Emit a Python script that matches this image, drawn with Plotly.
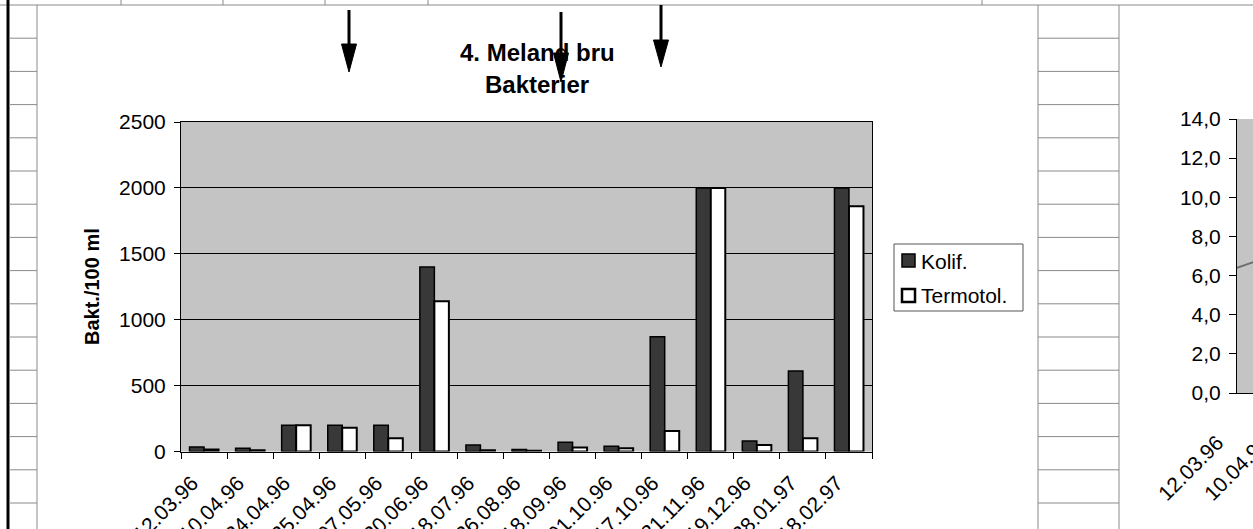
import plotly.graph_objects as go

# ---- data -------------------------------------------------------------
dates = ["12.03.96", "10.04.96", "24.04.96", "25.04.96", "07.05.96",
         "20.06.96", "18.07.96", "26.08.96", "18.09.96", "01.10.96",
         "17.10.96", "21.11.96", "19.12.96", "28.01.97", "18.02.97"]
kolif = [35, 25, 200, 200, 200, 1400, 50, 15, 70, 40, 870, 2000, 80, 610, 2000]
termotol = [15, 10, 200, 180, 100, 1140, 10, 5, 30, 25, 155, 2000, 50, 100, 1860]

# neighbouring chart on the sheet (only its left edge is in view)
side_dates = ["12.03.96", "10.04.96"]
side_values = [6.4, 7.2]
side_ticks = [0, 2, 4, 6, 8, 10, 12, 14]

W, H = 1253, 529
FONT = "Liberation Sans, Arial, sans-serif"
GRID = "#8a8a8a"


def px(x):
    return x / W


def py(y):
    return 1 - y / H


fig = go.Figure()

fig.add_trace(go.Bar(
    x=dates, y=kolif, name="Kolif.",
    marker=dict(color="#383838", line=dict(color="black", width=1.5)),
    showlegend=False,
))
fig.add_trace(go.Bar(
    x=dates, y=termotol, name="Termotol.",
    marker=dict(color="white", line=dict(color="black", width=2)),
    showlegend=False,
))
fig.add_trace(go.Scatter(
    x=[0, 1], y=side_values, mode="lines",
    line=dict(color="#6e6e6e", width=2),
    xaxis="x2", yaxis="y2", showlegend=False, cliponaxis=True,
))

shapes = []
annotations = []

# spreadsheet grid behind the charts
shapes.append(dict(type="line", xref="paper", yref="paper",
                   x0=0, x1=1, y0=py(5), y1=py(5),
                   line=dict(color=GRID, width=1)))
shapes.append(dict(type="line", xref="paper", yref="paper",
                   x0=px(8), x1=px(8), y0=0, y1=1,
                   line=dict(color="black", width=3)))
for xv in (121, 223, 325, 428, 982):
    shapes.append(dict(type="line", xref="paper", yref="paper",
                       x0=px(xv), x1=px(xv), y0=py(0), y1=py(5),
                       line=dict(color=GRID, width=1)))
for xv in (37, 1038, 1119):
    shapes.append(dict(type="line", xref="paper", yref="paper",
                       x0=px(xv), x1=px(xv), y0=0, y1=py(5),
                       line=dict(color=GRID, width=1)))
row = 5 + 33.2
while row < H:
    for a, b in ((9, 37), (1038, 1119)):
        shapes.append(dict(type="line", xref="paper", yref="paper",
                           x0=px(a), x1=px(b), y0=py(row), y1=py(row),
                           line=dict(color=GRID, width=1)))
    row += 33.2

# legend box drawn by hand
shapes.append(dict(type="rect", xref="paper", yref="paper",
                   x0=px(894), x1=px(1023), y0=py(311), y1=py(244),
                   line=dict(color="#555555", width=1), fillcolor="white"))
shapes.append(dict(type="rect", xref="paper", yref="paper",
                   x0=px(902), x1=px(915), y0=py(267), y1=py(254),
                   line=dict(color="black", width=1.5), fillcolor="#383838"))
shapes.append(dict(type="rect", xref="paper", yref="paper",
                   x0=px(902), x1=px(915), y0=py(302), y1=py(289),
                   line=dict(color="black", width=2.5), fillcolor="white"))
for label, yc in (("Kolif.", 261), ("Termotol.", 295)):
    annotations.append(dict(text=label, xref="paper", yref="paper",
                            x=px(919), y=py(yc), xanchor="left", yanchor="middle",
                            showarrow=False, font=dict(family=FONT, size=21, color="black")))

# chart title, two lines
for txt, yc in (("4. Meland bru", 53), ("Bakterier", 85)):
    annotations.append(dict(text=f"<b>{txt}</b>", xref="paper", yref="paper",
                            x=px(537), y=py(yc), xanchor="center", yanchor="middle",
                            showarrow=False,
                            font=dict(family=FONT, size=24, color="black")))
annotations.append(dict(text="<b>Bakt./100 ml</b>", xref="paper", yref="paper",
                        x=px(92), y=py(287), textangle=-90, showarrow=False,
                        xanchor="center", yanchor="middle",
                        font=dict(family=FONT, size=20, color="black")))

# hand-drawn arrows over the chart
for ax_, top, head, tip in ((349, 10, 44, 72), (561, 12, 53, 82), (661, 5, 40, 67)):
    shapes.append(dict(type="line", xref="paper", yref="paper",
                       x0=px(ax_), x1=px(ax_), y0=py(top), y1=py(head + 2),
                       line=dict(color="black", width=3)))
    shapes.append(dict(type="path", xref="paper", yref="paper",
                       path=f"M {px(ax_ - 7.5)},{py(head)} L {px(ax_ + 7.5)},{py(head)} "
                            f"L {px(ax_)},{py(tip)} Z",
                       fillcolor="black", line=dict(color="black", width=1)))

# category labels of the neighbouring chart
for i, d in enumerate(side_dates):
    annotations.append(dict(text=d, xref="paper", yref="paper",
                            x=px(1231 + 46 * i), y=py(428), textangle=-45,
                            xanchor="right", yanchor="top", showarrow=False,
                            font=dict(family=FONT, size=21, color="black")))

fig.update_layout(
    width=W, height=H,
    margin=dict(l=0, r=0, t=0, b=0, autoexpand=False),
    paper_bgcolor="white", plot_bgcolor="#c4c4c4",
    separators=", ",
    barmode="group", bargap=0.37, bargroupgap=0,
    font=dict(family=FONT, size=21, color="black"),
    shapes=shapes, annotations=annotations,
    xaxis=dict(domain=[px(181), px(872)], type="category",
               tickson="boundaries", ticks="outside", ticklen=6,
               tickcolor="black", tickangle=-45,
               ticklabelstandoff=10, ticklabelshift=-12,
               showline=True, linecolor="black", linewidth=1, mirror=True,
               showgrid=False, automargin=False,
               tickfont=dict(family=FONT, size=21)),
    yaxis=dict(domain=[py(451.5), py(122)], range=[0, 2500], dtick=500,
               ticks="outside", ticklen=6, tickcolor="black",
               ticklabelstandoff=4,
               showline=True, linecolor="black", linewidth=1, mirror=True,
               showgrid=True, gridcolor="black", gridwidth=1,
               zeroline=False, automargin=False,
               tickfont=dict(family=FONT, size=21)),
    xaxis2=dict(domain=[px(1237), 1], range=[0, 0.35], anchor="y2",
                showticklabels=False, ticks="", showgrid=False,
                showline=True, linecolor="black", zeroline=False),
    yaxis2=dict(domain=[py(393), py(119)], range=[0, 14], anchor="x2",
                tickvals=side_ticks, tickformat=".1f",
                ticks="outside", ticklen=7, tickcolor="black",
                ticklabelstandoff=4,
                showline=True, linecolor="black", showgrid=False,
                zeroline=False, automargin=False,
                tickfont=dict(family=FONT, size=21)),
)

fig.write_html("out.html")
